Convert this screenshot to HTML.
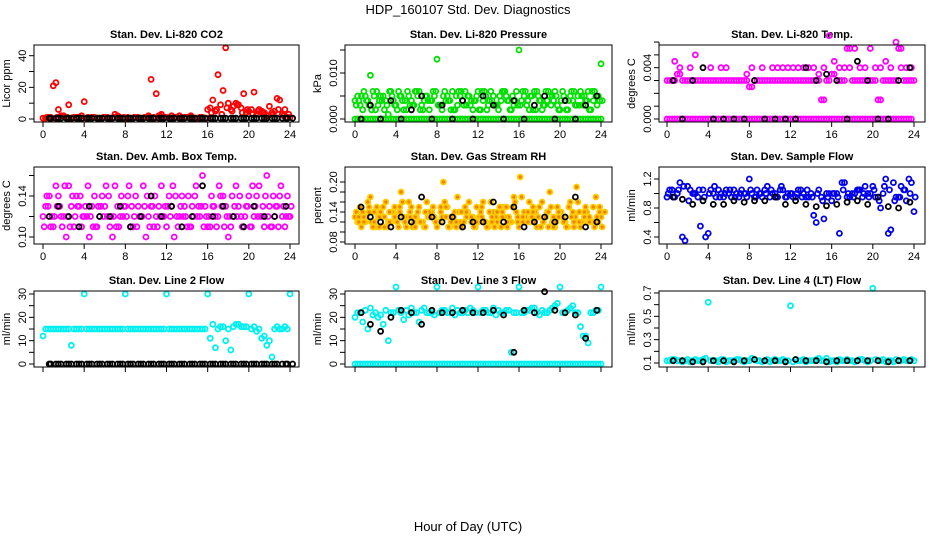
<!DOCTYPE html>
<html><head><meta charset="utf-8">
<style>
body{margin:0;background:#fff;}
svg{display:block;font-family:"Liberation Sans",sans-serif;}
</style></head>
<body>
<svg id="chart" width="936" height="540" viewBox="0 0 936 540">
<rect width="936" height="540" fill="#fff"/>
<text x="468" y="14" text-anchor="middle" font-size="13">HDP_160107  Std. Dev. Diagnostics</text>
<text x="468" y="531" text-anchor="middle" font-size="13">Hour of Day (UTC)</text>
</svg>
<script>
const hoursA=[0,0.5,1,1.5,2,2.5,3,3.5,4,4.5,5,5.5,6,6.5,7,7.5,8,8.5,9,9.5,10,10.5,11,11.5,12,12.5,13,13.5,14,14.5,15,15.5,16,16.5,17,17.5,18,18.5,19,19.5,20,20.5,21,21.5,22,22.5,23,23.5,24];
const hoursB=[0.25,0.75,1.25,1.75,2.25,2.75,3.25,3.75,4.25,4.75,5.25,5.75,6.25,6.75,7.25,7.75,8.25,8.75,9.25,9.75,10.25,10.75,11.25,11.75,12.25,12.75,13.25,13.75,14.25,14.75,15.25,15.75,16.25,16.75,17.25,17.75,18.25,18.75,19.25,19.75,20.25,20.75,21.25,21.75,22.25,22.75,23.25,23.75];
const hoursK=[0.6,1.5,2.5,3.5,4.5,5.5,6.5,7.5,8.5,9.5,10.5,11.5,12.5,13.5,14.5,15.5,16.5,17.5,18.5,19.5,20.5,21.5,22.5,23.6];
const xTicks=[0,4,8,12,16,20,24];

const co2A=[0.5,1,21,6,2,9,1,1,11,0.5,1,0.5,1,0.5,3,1,0.5,0.5,1,0.5,1,25,16,3,1,2,1,1,1,1,0.5,1,6,12,28,18,10,8,9,16,5,17,6,4,8,5,12,6,1];
const co2B=[0.5,1,23,2,1,0.5,1,2,0.5,1,0.5,0.5,1,0.5,2,0.5,1,0.5,1,0.5,2,1,2,1,0.5,1,2,1,1,0.5,1,0.5,7,5,9,45,6,10,7,4,6,3,5,2,4,13,3,1];
const co2C=[1,0.5,1,2,1,0.5,1,0.5,1,1,0.5,1,0.5,1,0.5,1,0.5,1,0.5,1,1,0.5,2,1,0.5,1,0.5,1,2,0.5,1,0.5,4,6,3,7,5,9,4,6,3,5,4,2,3,6,2,3];
const co2K=[0.5,0.5,0.5,0.5,0.5,0.5,0.5,0.5,0.5,0.5,0.5,0.5,0.5,0.5,0.5,0.5,0.5,0.5,0.5,0.5,0.5,0.5,0.5,0.5];
const co2K2=[0.5,0.5,0.5,0.5,0.5,0.5,0.5,0.5,0.5,0.5,0.5,0.5,0.5,0.5,0.5,0.5,0.5,0.5,0.5,0.5,0.5,0.5,0.5,0.5,0.5,0.5,0.5,0.5,0.5,0.5,0.5,0.5,0.5,0.5,0.5,0.5,0.5,0.5,0.5,0.5,0.5,0.5,0.5,0.5,0.5,0.5,0.5,0.5];

const presA=[0.004,0.003,0.005,0.0095,0.002,0.005,0.004,0.006,0.003,0.005,0.002,0.004,0.006,0.003,0.005,0.004,0.013,0.002,0.005,0.006,0.003,0.004,0.005,0.002,0.006,0.004,0.003,0.005,0.002,0.006,0.004,0.003,0.015,0.005,0.002,0.006,0.004,0.003,0.005,0.006,0.002,0.004,0.005,0.003,0.006,0.004,0.002,0.005,0.012];
const presB=[0.005,0.002,0.004,0.006,0.003,0.005,0.001,0.004,0.006,0.002,0.005,0.003,0.006,0.004,0.002,0.005,0.003,0.006,0.004,0.002,0.005,0.006,0.003,0.004,0.002,0.005,0.006,0.003,0.004,0.005,0.002,0.006,0.004,0.003,0.005,0.006,0.002,0.004,0.005,0.003,0.006,0.002,0.004,0.005,0.003,0.006,0.004,0.005];
const presD=[0.003,0.005,0.004,0.002,0.006,0.004,0.003,0.005,0.002,0.004,0.006,0.003,0.005,0.002,0.004,0.006,0.003,0.005,0.004,0.002,0.006,0.003,0.005,0.004,0.002,0.006,0.004,0.003,0.005,0.006,0.002,0.004,0.003,0.006,0.005,0.002,0.004,0.006,0.003,0.005,0.004,0.002,0.006,0.003,0.005,0.004,0.006,0.003,0.004];
const presE=[0.004,0.006,0.003,0.005,0.004,0.002,0.006,0.003,0.005,0.004,0.003,0.006,0.002,0.005,0.004,0.006,0.003,0.004,0.002,0.005,0.006,0.003,0.004,0.005,0.006,0.002,0.004,0.003,0.006,0.004,0.005,0.003,0.006,0.004,0.002,0.005,0.003,0.006,0.004,0.002,0.005,0.004,0.006,0.003,0.005,0.002,0.006,0.004];
const presC=[0,0,0,0,0,0,0,0,0,0,0,0,0,0,0,0,0,0,0,0,0,0,0,0,0,0,0,0,0,0,0,0,0,0,0,0,0,0,0,0,0,0,0,0,0,0,0,0,0];
const presK=[0,0.003,0,0.004,0,0.002,0.005,0,0.003,0,0.004,0,0.005,0.003,0,0.004,0,0.003,0.005,0,0.004,0,0.003,0.005];

const tempA=[0.003,0.003,0.0035,0.003,0.003,0.003,0.003,0.003,0.003,0.003,0.003,0.003,0.003,0.003,0.003,0.003,0.0025,0.003,0.003,0.003,0.003,0.003,0.003,0.003,0.003,0.003,0.003,0.003,0.003,0.003,0.0015,0.003,0.0035,0.003,0.003,0.0055,0.003,0.003,0.003,0.003,0.003,0.0015,0.003,0.003,0.003,0.0055,0.003,0.003,0.003];
const tempB=[0,0,0,0,0,0,0,0,0,0,0,0,0,0,0,0,0,0,0,0,0,0,0,0,0,0,0,0,0,0,0,0,0,0,0,0,0,0,0,0,0,0,0,0,0,0,0,0];
const tempC=[null,0.0045,0.004,null,0.004,0.005,null,null,0.004,null,0.004,0.004,null,null,null,0.0035,0.004,null,0.004,null,0.004,0.004,0.004,0.004,0.004,0.004,0.004,0.004,0.004,0.0035,0.004,0.0065,0.0045,0.004,0.004,0.004,0.0055,0.004,0.004,0.0055,0.004,0.004,0.0045,0.004,0.006,0.004,0.004,0.004];
const tempK=[0.003,0,0.003,0.004,0,0,0,0,0.003,0,0,0,0,0.004,0.003,0.0035,0.003,0,0.0045,0.003,0,0,0.003,0.004];

const boxA=[0.12,0.13,0.11,0.14,0.12,0.15,0.11,0.13,0.12,0.10,0.14,0.12,0.13,0.11,0.15,0.12,0.13,0.11,0.14,0.12,0.10,0.13,0.12,0.15,0.11,0.13,0.12,0.14,0.11,0.13,0.12,0.16,0.11,0.13,0.12,0.14,0.10,0.12,0.13,0.11,0.14,0.12,0.15,0.11,0.13,0.12,0.14,0.11,0.12];
const boxB=[0.13,0.11,0.15,0.12,0.10,0.13,0.14,0.11,0.12,0.13,0.11,0.14,0.12,0.10,0.13,0.12,0.14,0.11,0.13,0.15,0.12,0.11,0.13,0.12,0.14,0.10,0.12,0.13,0.11,0.14,0.12,0.13,0.11,0.12,0.14,0.13,0.11,0.15,0.12,0.13,0.11,0.14,0.12,0.16,0.11,0.13,0.12,0.14];
const boxC=[0.11,0.14,0.12,0.13,0.15,0.11,0.12,0.14,0.13,0.12,0.11,0.13,0.15,0.12,0.11,0.14,0.12,0.13,0.11,0.12,0.14,0.13,0.11,0.12,0.13,0.15,0.11,0.12,0.14,0.12,0.13,0.11,0.12,0.13,0.15,0.11,0.12,0.13,0.14,0.12,0.11,0.13,0.12,0.14,0.11,0.13,0.15,0.12,0.13];
const boxD=[0.14,0.12,0.13,0.11,0.12,0.14,0.13,0.12,0.15,0.11,0.13,0.12,0.14,0.12,0.11,0.13,0.15,0.12,0.12,0.13,0.11,0.14,0.12,0.13,0.12,0.14,0.13,0.12,0.11,0.15,0.13,0.12,0.14,0.11,0.13,0.12,0.14,0.12,0.11,0.13,0.15,0.12,0.13,0.12,0.14,0.11,0.13,0.12];
const boxK=[0.12,0.13,0.12,0.11,0.13,0.12,0.12,0.13,0.11,0.12,0.14,0.12,0.13,0.11,0.12,0.15,0.12,0.13,0.12,0.11,0.13,0.12,0.12,0.13];

const rhA=[0.13,0.15,0.12,0.17,0.11,0.14,0.16,0.12,0.13,0.18,0.11,0.15,0.13,0.12,0.16,0.14,0.11,0.13,0.15,0.12,0.17,0.11,0.14,0.13,0.12,0.16,0.11,0.14,0.12,0.15,0.13,0.17,0.11,0.14,0.16,0.12,0.15,0.13,0.18,0.11,0.14,0.12,0.16,0.13,0.11,0.15,0.12,0.17,0.13];
const rhB=[0.12,0.14,0.16,0.11,0.13,0.15,0.12,0.14,0.11,0.13,0.16,0.12,0.15,0.11,0.14,0.13,0.12,0.16,0.11,0.14,0.12,0.15,0.13,0.11,0.14,0.12,0.16,0.13,0.11,0.15,0.12,0.14,0.17,0.12,0.13,0.11,0.16,0.14,0.12,0.15,0.13,0.11,0.14,0.16,0.12,0.13,0.15,0.12];
const rhC=[0.14,0.11,0.13,0.12,0.15,0.13,0.11,0.14,0.12,0.16,0.13,0.11,0.14,0.12,0.13,0.15,0.12,0.20,0.11,0.13,0.14,0.12,0.16,0.11,0.13,0.12,0.14,0.11,0.15,0.13,0.12,0.16,0.21,0.13,0.12,0.14,0.11,0.13,0.15,0.12,0.14,0.11,0.13,0.19,0.12,0.14,0.12,0.13,0.11];
const rhD=[0.13,0.12,0.15,0.14,0.11,0.13,0.12,0.15,0.14,0.12,0.13,0.11,0.12,0.14,0.13,0.12,0.15,0.13,0.12,0.11,0.14,0.13,0.12,0.15,0.13,0.11,0.12,0.14,0.13,0.12,0.15,0.13,0.12,0.14,0.15,0.13,0.12,0.14,0.11,0.13,0.12,0.15,0.12,0.14,0.13,0.12,0.11,0.14];
const rhE=[0.12,0.13,0.14,0.12,0.13,0.11,0.14,0.13,0.15,0.12,0.14,0.13,0.12,0.11,0.13,0.12,0.14,0.15,0.13,0.12,0.11,0.14,0.13,0.12,0.15,0.11,0.13,0.12,0.14,0.11,0.15,0.12,0.13,0.12,0.14,0.13,0.12,0.11,0.13,0.14,0.12,0.15,0.11,0.12,0.14,0.13,0.12,0.15,0.14];
const rhK=[0.15,0.13,0.12,0.11,0.13,0.12,0.17,0.13,0.12,0.13,0.11,0.12,0.12,0.16,0.12,0.15,0.11,0.12,0.13,0.12,0.13,0.17,0.11,0.12];

const sfA=[0.95,1.05,1.0,0.4,1.1,1.0,0.95,1.05,0.45,1.0,1.05,0.95,1.0,1.05,0.95,1.0,1.2,0.95,1.0,1.05,0.95,1.0,1.05,0.95,1.0,0.95,1.05,0.95,1.0,0.6,0.95,1.0,0.9,1.0,1.15,0.95,1.0,1.05,0.95,1.0,1.1,0.95,1.0,0.45,1.15,0.95,1.05,1.2,0.75];
const sfB=[1.05,0.95,1.15,0.35,1.05,1.0,0.55,0.4,1.05,0.95,1.0,1.05,0.95,1.0,1.05,0.95,1.0,1.05,0.95,1.1,1.0,0.95,1.05,1.0,0.95,1.05,1.0,0.95,0.7,1.05,0.65,1.0,1.0,0.45,1.15,0.95,1.0,1.05,1.1,1.0,0.95,0.8,1.2,0.5,0.95,1.1,0.9,1.15];
const sfC=[1.0,0.95,1.05,1.1,0.9,1.0,1.05,0.95,1.0,1.1,0.95,1.0,1.05,0.95,1.0,1.0,1.05,0.95,1.0,1.0,1.05,0.95,1.1,0.95,1.0,1.0,0.95,1.05,0.95,1.0,0.9,0.95,1.0,0.95,1.05,1.0,0.95,1.05,1.0,0.95,1.05,0.9,1.1,1.05,0.9,0.95,1.05,1.0,0.95];
const sfK=[0.95,0.92,0.85,0.9,0.85,0.85,0.9,0.88,0.9,0.9,0.95,0.85,0.9,0.85,0.82,0.83,0.85,0.88,0.9,0.85,0.95,0.82,0.8,0.88];

const l2A=[12,15,15,15,15,15,15,15,30,15,15,15,15,15,15,15,30,15,15,15,15,15,15,15,30,15,15,15,15,15,15,15,30,17,15,16,15,16,17,16,30,16,15,12,10,15,15,16,30];
const l2B=[15,15,15,15,15,8,15,15,15,15,15,15,15,15,15,15,15,15,15,15,15,15,15,15,15,15,15,15,15,15,15,15,11,7,16,10,6,17,16,16,15,14,11,8,3,16,15,15];
const l2K=[0,0,0,0,0,0,0,0,0,0,0,0,0,0,0,0,0,0,0,0,0,0,0,0];
const l2K2=[0,0,0,0,0,0,0,0,0,0,0,0,0,0,0,0,0,0,0,0,0,0,0,0,0,0,0,0,0,0,0,0,0,0,0,0,0,0,0,0,0,0,0,0,0,0,0,0];

const l3A=[20,22,23,24,22,21,23,22,33,22,23,24,22,23,22,22,33,23,22,24,23,22,22,23,33,23,22,24,23,22,23,22,33,22,23,24,21,22,23,25,33,22,24,22,16,12,22,23,33];
const l3B=[22,18,15,21,20,17,10,22,23,19,21,22,18,24,22,21,22,23,22,21,22,23,24,22,22,23,22,21,22,23,5,22,22,23,24,22,23,22,24,26,22,23,25,22,12,9,22,23];
const l3C=[0,0,0,0,0,0,0,0,0,0,0,0,0,0,0,0,0,0,0,0,0,0,0,0,0,0,0,0,0,0,0,0,0,0,0,0,0,0,0,0,0,0,0,0,0,0,0,0,0];
const l3K=[22,17,14,20,23,22,17,23,22,22,23,22,22,23,21,5,23,22,31,23,22,21,11,23];

const l4A=[0.12,0.13,0.12,0.11,0.13,0.12,0.12,0.13,0.62,0.12,0.11,0.13,0.12,0.12,0.13,0.11,0.12,0.13,0.12,0.12,0.11,0.13,0.12,0.12,0.59,0.13,0.12,0.11,0.12,0.13,0.12,0.14,0.12,0.11,0.12,0.13,0.12,0.12,0.13,0.11,0.74,0.12,0.13,0.12,0.11,0.12,0.13,0.12,0.12];
const l4B=[0.12,0.13,0.12,0.12,0.11,0.13,0.12,0.14,0.12,0.12,0.13,0.11,0.12,0.13,0.12,0.12,0.14,0.12,0.11,0.13,0.12,0.12,0.13,0.12,0.11,0.12,0.13,0.12,0.12,0.14,0.12,0.11,0.12,0.13,0.12,0.12,0.11,0.13,0.12,0.12,0.13,0.12,0.11,0.12,0.13,0.12,0.12,0.13];
const l4K=[0.12,0.12,0.11,0.11,0.12,0.12,0.11,0.12,0.13,0.12,0.12,0.11,0.13,0.12,0.12,0.11,0.12,0.12,0.12,0.12,0.12,0.11,0.12,0.12];

const NS='http://www.w3.org/2000/svg';
const svg=document.getElementById('chart');
function mk(tag,attrs,parent){const e=document.createElementNS(NS,tag);for(const k in attrs)e.setAttribute(k,attrs[k]);(parent||svg).appendChild(e);return e;}

const cols=[{l:34,r:299,x0:43,x24:290},{l:345,r:612,x0:355,x24:601},{l:659,r:925,x0:667,x24:914}];
const rows=[{t:45,b:122},{t:167,b:244},{t:291,b:367}];
const OR='#ffcc00',ORF='#f08000';

const panels=[
 {c:0,r:0,title:'Stan. Dev. Li-820 CO2',ylab:'Licor ppm',v1:0,p1:119,v2:40,p2:55.7,ticks:[0,10,20,30,40],labels:['0','','20','','40'],
  series:[{x:hoursA,y:co2A,col:'#ff0000'},{x:hoursB,y:co2B,col:'#ff0000'},{x:hoursB,y:co2C,col:'#ff0000',dx:0.12},{x:hoursK,y:co2K,col:'#000'},{x:hoursB,y:co2K2,col:'#000',dx:0.5}]},
 {c:1,r:0,title:'Stan. Dev. Li-820 Pressure',ylab:'kPa',v1:0,p1:119,v2:0.01,p2:73,ticks:[0,0.005,0.01,0.015],labels:['0.000','','0.010',''],
  series:[{x:hoursA,y:presC,col:'#00e000'},{x:hoursB,y:presC,col:'#00e000'},{x:hoursA,y:presA,col:'#00e000'},{x:hoursB,y:presB,col:'#00e000'},{x:hoursA,y:presD,col:'#00e000',dx:0.12},{x:hoursB,y:presE,col:'#00e000',dx:0.12},{x:hoursK,y:presK,col:'#000'}]},
 {c:2,r:0,title:'Stan. Dev. Li-820 Temp.',ylab:'degrees C',v1:0,p1:119,v2:0.004,p2:67.7,ticks:[0,0.001,0.002,0.003,0.004,0.005,0.006],labels:['0.000','','','','0.004','',''],
  series:[{x:hoursA,y:tempA,col:'#ff00ff'},{x:hoursB,y:tempA,col:'#ff00ff'},{x:hoursB,y:tempB,col:'#ff00ff'},{x:hoursA,y:tempB,col:'#ff00ff'},{x:hoursB,y:tempC,col:'#ff00ff'},{x:hoursK,y:tempK,col:'#000'}]},
 {c:0,r:1,title:'Stan. Dev. Amb. Box Temp.',ylab:'degrees C',v1:0.10,p1:237,v2:0.14,p2:196,ticks:[0.10,0.12,0.14,0.16],labels:['0.10','','0.14',''],
  series:[{x:hoursA,y:boxA,col:'#ff00ff'},{x:hoursB,y:boxB,col:'#ff00ff'},{x:hoursA,y:boxC,col:'#ff00ff',dx:0.12},{x:hoursB,y:boxD,col:'#ff00ff',dx:0.12},{x:hoursK,y:boxK,col:'#000'}]},
 {c:1,r:1,title:'Stan. Dev. Gas Stream RH',ylab:'percent',v1:0.08,p1:242,v2:0.20,p2:182,ticks:[0.08,0.10,0.12,0.14,0.16,0.18,0.20],labels:['0.08','','','0.14','','','0.20'],
  series:[{x:hoursA,y:rhA,col:OR,fill:ORF},{x:hoursB,y:rhB,col:OR,fill:ORF},{x:hoursA,y:rhC,col:OR,fill:ORF,dx:0.12},{x:hoursB,y:rhD,col:OR,fill:ORF,dx:0.12},{x:hoursA,y:rhE,col:OR,fill:ORF,dx:0.37},{x:hoursK,y:rhK,col:'#000'}]},
 {c:2,r:1,title:'Stan. Dev. Sample Flow',ylab:'ml/min',v1:0.4,p1:237,v2:1.2,p2:179,ticks:[0.4,0.6,0.8,1.0,1.2],labels:['0.4','','0.8','','1.2'],
  series:[{x:hoursA,y:sfA,col:'#0000ee'},{x:hoursB,y:sfB,col:'#0000ee'},{x:hoursA,y:sfC,col:'#0000ee',dx:0.12},{x:hoursK,y:sfK,col:'#000'}]},
 {c:0,r:2,title:'Stan. Dev. Line 2 Flow',ylab:'ml/min',v1:0,p1:364,v2:30,p2:294,ticks:[0,5,10,15,20,25,30],labels:['0','','10','','20','','30'],noX:true,
  series:[{x:hoursA,y:l2A,col:'#00f0f0'},{x:hoursB,y:l2B,col:'#00f0f0'},{x:hoursK,y:l2K,col:'#000'},{x:hoursB,y:l2K2,col:'#000',dx:0.5}]},
 {c:1,r:2,title:'Stan. Dev. Line 3 Flow',ylab:'ml/min',v1:0,p1:364,v2:30,p2:294,ticks:[0,5,10,15,20,25,30],labels:['0','','10','','20','','30'],noX:true,
  series:[{x:hoursA,y:l3C,col:'#00f0f0'},{x:hoursB,y:l3C,col:'#00f0f0'},{x:hoursA,y:l3A,col:'#00f0f0'},{x:hoursB,y:l3B,col:'#00f0f0'},{x:hoursK,y:l3K,col:'#000'}]},
 {c:2,r:2,title:'Stan. Dev. Line 4 (LT) Flow',ylab:'ml/min',v1:0.1,p1:363,v2:0.7,p2:293,ticks:[0.1,0.2,0.3,0.4,0.5,0.6,0.7],labels:['0.1','','0.3','','0.5','','0.7'],noX:true,
  series:[{x:hoursA,y:l4A,col:'#00f0f0'},{x:hoursB,y:l4B,col:'#00f0f0'},{x:hoursK,y:l4K,col:'#000'}]}
];

panels.forEach((p,pi)=>{
  const C=cols[p.c],R=rows[p.r];
  const g=mk('g',{});
  
  
  const xs=v=>C.x0+(v/24)*(C.x24-C.x0);
  const ys=v=>p.p1+(v-p.v1)*(p.p2-p.p1)/(p.v2-p.v1);
  const t=mk('text',{x:(C.l+C.r)/2,y:R.t-7,'text-anchor':'middle','font-size':11,'font-weight':'bold'},g);
  t.textContent=p.title;
  
  
  const pg=mk('g',{},g);
  
  
  p.series.forEach(s=>{
    s.y.forEach((v,i)=>{
      if(v===null||s.x[i]===undefined)return;
      const c=mk('circle',{cx:xs(s.x[i]+(s.dx||0)).toFixed(1),cy:ys(v).toFixed(1),r:2.5,fill:s.fill||'none',stroke:s.col,'stroke-width':1.8},pg);
      
      
    });
  });
  const b=mk('rect',{x:C.l,y:R.t,width:C.r-C.l,height:R.b-R.t,fill:'none',stroke:'#000','stroke-width':1},g);
  
  
  const xa=mk('g',{},g);
  
  
  mk('line',{x1:xs(0),x2:xs(24),y1:R.b,y2:R.b,stroke:'#000'},xa);
  xTicks.forEach(v=>{
    mk('line',{x1:xs(v),x2:xs(v),y1:R.b,y2:R.b+5,stroke:'#000'},xa);
    if(!p.noX){const tl=mk('text',{x:xs(v),y:R.b+16,'text-anchor':'middle','font-size':11},xa);tl.textContent=v;
      
      }
  });
  const ya=mk('g',{},g);
  
  
  mk('line',{x1:C.l,x2:C.l,y1:ys(p.ticks[0]),y2:ys(p.ticks[p.ticks.length-1]),stroke:'#000'},ya);
  p.ticks.forEach((v,i)=>{
    const y=ys(v);
    mk('line',{x1:C.l-5,x2:C.l,y1:y,y2:y,stroke:'#000'},ya);
    if(p.labels[i]){const tl=mk('text',{x:C.l-8,y:y,'text-anchor':'middle','font-size':11,transform:`rotate(-90 ${C.l-8} ${y})`},ya);tl.textContent=p.labels[i];
      
      }
  });
  const yl=mk('text',{x:C.l-24,y:(R.t+R.b)/2,'text-anchor':'middle','font-size':11,transform:`rotate(-90 ${C.l-24} ${(R.t+R.b)/2})`},g);
  yl.textContent=p.ylab;
  
  
});
</script>
</body></html>
